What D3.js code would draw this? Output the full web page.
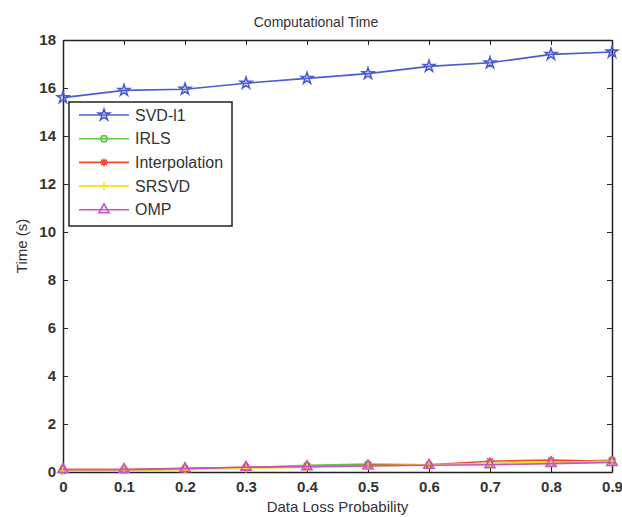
<!DOCTYPE html>
<html>
<head>
<meta charset="utf-8">
<script src="https://cdn.jsdelivr.net/npm/d3@7"></script>
<style>
  body { margin: 0; background: #fff; }
  svg { font-family: "Liberation Sans", Arial, sans-serif; }
</style>
</head>
<body>
<svg width="622" height="517"></svg>
<script>
const probs = [0, 0.1, 0.2, 0.3, 0.4, 0.5, 0.6, 0.7, 0.8, 0.9];
const seriesNames = ['SVD-l1', 'IRLS', 'Interpolation', 'SRSVD', 'OMP'];
const svdL1 = [15.6, 15.9, 15.95, 16.2, 16.4, 16.6, 16.9, 17.05, 17.4, 17.5];
const irls = [0.05, 0.08, 0.12, 0.18, 0.28, 0.33, 0.3, 0.35, 0.4, 0.5];
const interp = [0.1, 0.1, 0.15, 0.2, 0.22, 0.28, 0.3, 0.45, 0.5, 0.45];
const srsvd = [0.05, 0.07, 0.1, 0.15, 0.2, 0.25, 0.3, 0.35, 0.4, 0.45];
const omp = [0.1, 0.1, 0.14, 0.2, 0.22, 0.25, 0.28, 0.3, 0.35, 0.4];
const xTicks = [0, 0.1, 0.2, 0.3, 0.4, 0.5, 0.6, 0.7, 0.8, 0.9];
const yTicks = [0, 2, 4, 6, 8, 10, 12, 14, 16, 18];

const colors = ['#4a5cd0', '#5cc843', '#f04a2a', '#f2e320', '#c653c6'];
const markers = ['star', 'circle', 'asterisk', 'plus', 'triangle'];
const allSeries = [svdL1, irls, interp, srsvd, omp];

const svg = d3.select('svg');
const margin = { top: 40, right: 10, bottom: 45, left: 63 };
const width = 612 - margin.left;
const height = 472 - margin.top;

const x = d3.scaleLinear().domain([0, 0.9]).range([0, width]);
const y = d3.scaleLinear().domain([0, 18]).range([height, 0]);

const g = svg.append('g').attr('transform', `translate(${margin.left},${margin.top})`);

// axes with inward ticks on all four sides
const axisStyle = sel => {
  sel.selectAll('.domain').attr('stroke', '#222').attr('stroke-width', 1.5);
  sel.selectAll('.tick line').attr('stroke', '#222');
  sel.selectAll('text').attr('fill', '#333').style('font-size', '15px').style('font-weight', 'bold');
};

g.append('g').attr('transform', `translate(0,${height})`)
  .call(d3.axisBottom(x).tickValues(xTicks).tickSizeInner(-5).tickSizeOuter(0).tickPadding(9).tickFormat(d3.format('')))
  .call(axisStyle);
g.append('g')
  .call(d3.axisTop(x).tickValues(xTicks).tickSizeInner(-5).tickSizeOuter(0).tickFormat(''))
  .call(axisStyle);
g.append('g')
  .call(d3.axisLeft(y).tickValues(yTicks).tickSizeInner(-5).tickSizeOuter(0).tickPadding(7))
  .call(axisStyle);
g.append('g').attr('transform', `translate(${width},0)`)
  .call(d3.axisRight(y).tickValues(yTicks).tickSizeInner(-5).tickSizeOuter(0).tickFormat(''))
  .call(axisStyle);

function markerPath(type) {
  if (type === 'star') return d3.symbol(d3.symbolStar, 40)();
  if (type === 'circle') return d3.symbol(d3.symbolCircle, 30)();
  if (type === 'triangle') return d3.symbol(d3.symbolTriangle, 45)();
  const r = 4;
  if (type === 'asterisk') {
    const a = r * 0.7;
    return `M${-r},0L${r},0M0,${-r}L0,${r}M${-a},${-a}L${a},${a}M${-a},${a}L${a},${-a}`;
  }
  return `M${-r},0L${r},0M0,${-r}L0,${r}`;
}

const line = d3.line().x((d, i) => x(probs[i])).y(d => y(d));

allSeries.forEach((vals, k) => {
  g.append('path').datum(vals)
    .attr('d', line)
    .attr('fill', 'none')
    .attr('stroke', colors[k])
    .attr('stroke-width', 1.6);
  g.selectAll(null).data(vals).enter().append('path')
    .attr('transform', (d, i) => `translate(${x(probs[i])},${y(d)})`)
    .attr('d', markerPath(markers[k]))
    .attr('fill', 'none')
    .attr('stroke', colors[k])
    .attr('stroke-width', 1.6);
});

// legend
const leg = svg.append('g').attr('transform', 'translate(69,102)');
leg.append('rect').attr('width', 163).attr('height', 124)
  .attr('fill', '#fff').attr('stroke', '#222').attr('stroke-width', 1.5);
seriesNames.forEach((name, k) => {
  const ly = 13 + k * 23.7;
  leg.append('line').attr('x1', 10).attr('x2', 60).attr('y1', ly).attr('y2', ly)
    .attr('stroke', colors[k]).attr('stroke-width', 1.6);
  leg.append('path').attr('transform', `translate(35,${ly})`)
    .attr('d', markerPath(markers[k]))
    .attr('fill', 'none').attr('stroke', colors[k]).attr('stroke-width', 1.6);
  leg.append('text').attr('x', 66).attr('y', ly + 5.5)
    .style('font-size', '16px').attr('fill', '#333')
    .text(name);
});

svg.append('text').attr('x', 316).attr('y', 27)
  .attr('text-anchor', 'middle').style('font-size', '14px').attr('fill', '#333')
  .text('Computational Time');
svg.append('text').attr('x', margin.left + width / 2).attr('y', 512)
  .attr('text-anchor', 'middle').style('font-size', '15px').attr('fill', '#333')
  .text('Data Loss Probability');
svg.append('text').attr('transform', 'translate(27,246) rotate(-90)')
  .attr('text-anchor', 'middle').style('font-size', '15px').attr('fill', '#333')
  .text('Time (s)');
</script>
</body>
</html>
